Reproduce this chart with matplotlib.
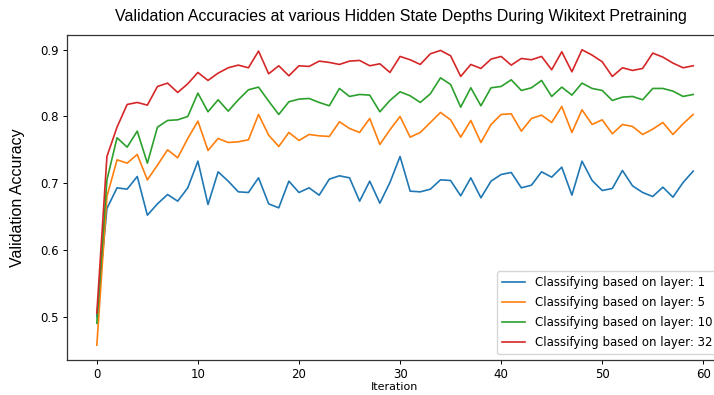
import numpy as np
import matplotlib

matplotlib.use("Agg")
import matplotlib.pyplot as plt

iterations = np.arange(60)

layer_labels = ["1", "5", "10", "32"]

acc_layer_1 = [
    0.500, 0.662, 0.693, 0.691, 0.710, 0.652, 0.669, 0.683, 0.673, 0.693,
    0.733, 0.668, 0.717, 0.703, 0.687, 0.686, 0.708, 0.669, 0.663, 0.703,
    0.686, 0.693, 0.682, 0.706, 0.711, 0.708, 0.673, 0.703, 0.670, 0.701,
    0.740, 0.688, 0.687, 0.691, 0.705, 0.704, 0.681, 0.708, 0.678, 0.703,
    0.713, 0.716, 0.693, 0.697, 0.717, 0.709, 0.724, 0.682, 0.733, 0.704,
    0.689, 0.692, 0.719, 0.696, 0.686, 0.680, 0.694, 0.679, 0.701, 0.718,
]
acc_layer_5 = [
    0.457, 0.680, 0.735, 0.730, 0.743, 0.705, 0.727, 0.750, 0.738, 0.767,
    0.793, 0.749, 0.767, 0.761, 0.762, 0.765, 0.803, 0.772, 0.755, 0.776,
    0.764, 0.773, 0.771, 0.770, 0.792, 0.782, 0.776, 0.797, 0.758, 0.780,
    0.800, 0.769, 0.776, 0.791, 0.806, 0.795, 0.769, 0.794, 0.761, 0.788,
    0.803, 0.804, 0.778, 0.797, 0.802, 0.791, 0.815, 0.776, 0.810, 0.788,
    0.795, 0.774, 0.788, 0.785, 0.773, 0.781, 0.791, 0.773, 0.789, 0.803,
]
acc_layer_10 = [
    0.490, 0.705, 0.768, 0.754, 0.778, 0.730, 0.784, 0.794, 0.795, 0.800,
    0.835, 0.807, 0.825, 0.808, 0.825, 0.840, 0.844, 0.823, 0.803, 0.822,
    0.826, 0.827, 0.821, 0.816, 0.842, 0.830, 0.833, 0.832, 0.807, 0.824,
    0.837, 0.831, 0.821, 0.834, 0.858, 0.848, 0.814, 0.843, 0.816, 0.843,
    0.845, 0.855, 0.839, 0.843, 0.854, 0.830, 0.844, 0.832, 0.850, 0.842,
    0.839, 0.824, 0.829, 0.830, 0.825, 0.842, 0.842, 0.838, 0.830, 0.833,
]
acc_layer_32 = [
    0.505, 0.740, 0.784, 0.818, 0.821, 0.817, 0.845, 0.850, 0.836, 0.849,
    0.866, 0.854, 0.865, 0.873, 0.877, 0.873, 0.898, 0.864, 0.876, 0.861,
    0.876, 0.875, 0.883, 0.881, 0.878, 0.883, 0.884, 0.876, 0.879, 0.866,
    0.890, 0.885, 0.878, 0.894, 0.899, 0.891, 0.860, 0.878, 0.872, 0.886,
    0.890, 0.877, 0.887, 0.885, 0.890, 0.870, 0.897, 0.867, 0.900, 0.892,
    0.882, 0.860, 0.873, 0.869, 0.872, 0.895, 0.889, 0.880, 0.873, 0.876,
]

series = [acc_layer_1, acc_layer_5, acc_layer_10, acc_layer_32]
colors = ["#1f77b4", "#ff7f0e", "#2ca02c", "#d62728"]

plt.rcParams["font.size"] = 8.5
plt.rcParams["axes.linewidth"] = 0.9
plt.rcParams["xtick.major.size"] = 2.6
plt.rcParams["ytick.major.size"] = 2.6
plt.rcParams["xtick.major.width"] = 0.7
plt.rcParams["ytick.major.width"] = 0.7
plt.rcParams["xtick.major.pad"] = 2.8

fig = plt.figure(figsize=(7.14, 3.95), dpi=100)
# the original picture is cropped on the right, so the axes run past the edge
ax = fig.add_axes([67 / 714, 35 / 395, 656 / 714, 325 / 395])

for label, values, color in zip(layer_labels, series, colors):
    ax.plot(iterations, values, color=color, linewidth=1.2,
            label=f"Classifying based on layer: {label}")

ax.set_xticks([0, 10, 20, 30, 40, 50, 60])
ax.set_yticks([0.5, 0.6, 0.7, 0.8, 0.9])
ax.set_xlabel("Iteration", fontsize=8, labelpad=1)
ax.set_ylabel("Validation Accuracy", fontsize=11.5,
              family="Liberation Sans", labelpad=11)
ax.set_title("Validation Accuracies at various Hidden State Depths During Wikitext Pretraining",
             fontsize=11.5, family="Liberation Sans", pad=10, x=0.509)
for side in ax.spines.values():
    side.set_color("#333333")

ax.legend(loc="lower right", fontsize=8.5, borderaxespad=0.5,
          handlelength=2.0, labelspacing=0.6, framealpha=0.8)

fig.savefig("out.png", dpi=100)
